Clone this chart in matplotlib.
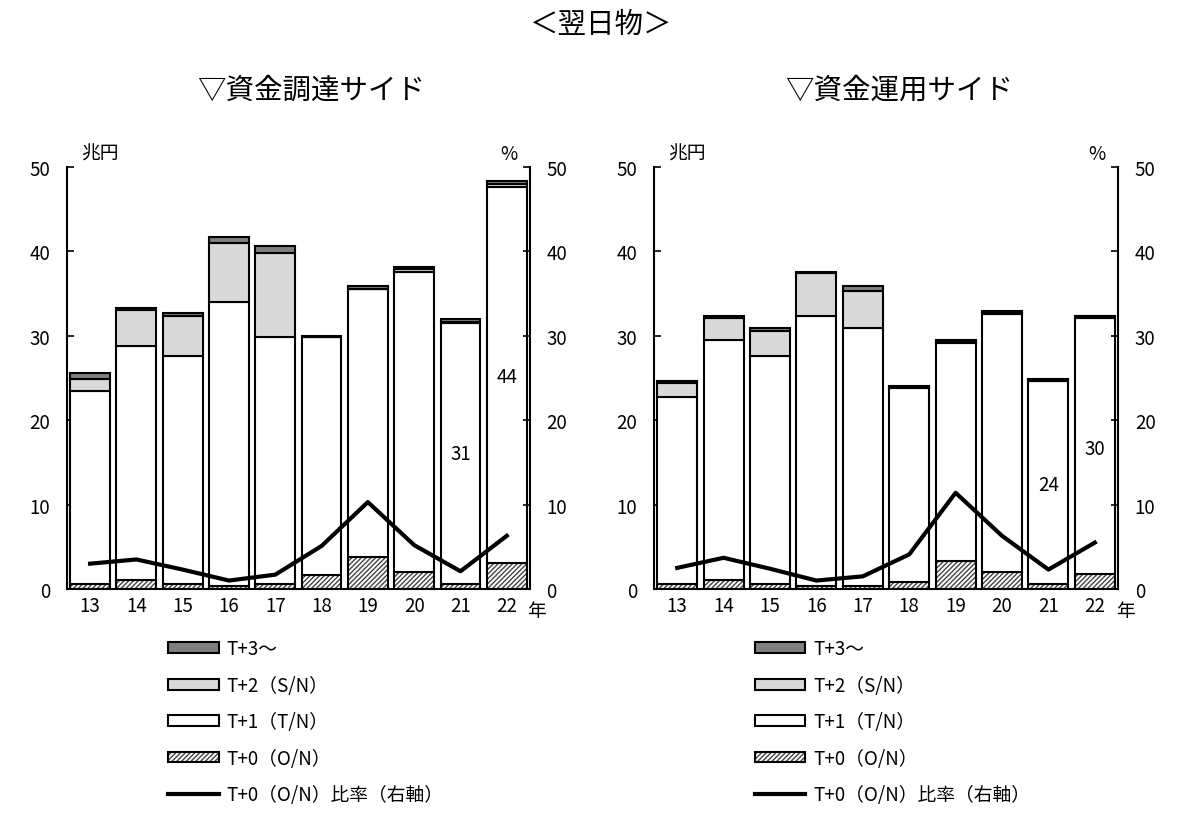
import matplotlib
matplotlib.use("Agg")
import matplotlib.pyplot as plt
from matplotlib.patches import Patch
from matplotlib.lines import Line2D
import numpy as np

plt.rcParams['font.family'] = ['Noto Sans CJK JP', 'DejaVu Sans']
plt.rcParams['hatch.linewidth'] = 1.0

years = ['13', '14', '15', '16', '17', '18', '19', '20', '21', '22']

# 資金調達サイド (兆円)
fund_t0 = [0.6, 1.1, 0.6, 0.4, 0.6, 1.6, 3.75, 2.0, 0.6, 3.1]
fund_t1 = [22.8, 27.7, 27.0, 33.6, 29.3, 28.2, 31.75, 35.6, 30.9, 44.5]
fund_t2 = [1.5, 4.2, 4.8, 7.0, 9.9, 0.1, 0.1, 0.3, 0.1, 0.4]
fund_t3 = [0.7, 0.3, 0.3, 0.7, 0.8, 0.1, 0.3, 0.3, 0.4, 0.3]
fund_ratio = [3.0, 3.5, 2.3, 1.0, 1.7, 5.1, 10.3, 5.2, 2.1, 6.3]
fund_annot_idx = [8, 9]
fund_annot_txt = ['31', '44']
fund_annot_y = [16.0, 25.2]

# 資金運用サイド (兆円)
inv_t0 = [0.6, 1.1, 0.6, 0.4, 0.4, 0.8, 3.3, 2.0, 0.6, 1.8]
inv_t1 = [22.1, 28.4, 27.0, 32.0, 30.5, 23.0, 25.9, 30.6, 24.0, 30.3]
inv_t2 = [1.7, 2.6, 3.0, 5.0, 4.4, 0.1, 0.1, 0.1, 0.1, 0.2]
inv_t3 = [0.3, 0.3, 0.3, 0.2, 0.6, 0.1, 0.2, 0.2, 0.2, 0.1]
inv_ratio = [2.5, 3.7, 2.4, 1.0, 1.5, 4.1, 11.4, 6.3, 2.3, 5.5]
inv_annot_idx = [8, 9]
inv_annot_txt = ['24', '30']
inv_annot_y = [12.4, 16.6]

legend_labels = ['T+3～', 'T+2（S/N）', 'T+1（T/N）', 'T+0（O/N）', 'T+0（O/N）比率（右軸）']

C_T3 = '#7f7f7f'
C_T2 = '#d9d9d9'
C_T1 = '#ffffff'
HATCH_C = '#444444'
HATCH = '///////'
EDGE_LW = 1.5
W = 0.86
FS = 13.5

fig = plt.figure(figsize=(12, 8.37), dpi=100)


def draw(rect, t0, t1, t2, t3, ratio, aidx, atxt, ay, title, leg_x):
    ax = fig.add_axes(rect)
    x = np.arange(len(years))
    t0 = np.array(t0); t1 = np.array(t1); t2 = np.array(t2); t3 = np.array(t3)
    ax.bar(x, t0, W, color='white', edgecolor=HATCH_C, hatch=HATCH, lw=0, zorder=2)
    ax.bar(x, t0, W, fill=False, edgecolor='black', lw=EDGE_LW, zorder=3)
    ax.bar(x, t1, W, bottom=t0, color=C_T1, edgecolor='black', lw=EDGE_LW, zorder=3)
    ax.bar(x, t2, W, bottom=t0 + t1, color=C_T2, edgecolor='black', lw=EDGE_LW, zorder=3)
    ax.bar(x, t3, W, bottom=t0 + t1 + t2, color=C_T3, edgecolor='black', lw=EDGE_LW, zorder=3)
    for i, s, yv in zip(aidx, atxt, ay):
        ax.text(x[i], yv, s, ha='center', va='center', fontsize=FS, zorder=5)
    ax.set_xlim(-0.5, len(years) - 0.5)
    ax.set_ylim(0, 50)
    ax.set_yticks(range(0, 51, 10))
    ax.set_xticks(x)
    ax.set_xticklabels(years, fontsize=FS)
    ax.tick_params(axis='x', length=0, pad=4)
    ax.tick_params(axis='y', direction='in', length=5, width=1.2, labelsize=FS, pad=12)
    for s in ['top', 'right']:
        ax.spines[s].set_visible(False)
    for s in ['left', 'bottom']:
        ax.spines[s].set_linewidth(1.5)
    ax2 = ax.twinx()
    ax2.plot(x, ratio, color='black', lw=3, zorder=6)
    ax2.set_ylim(0, 50)
    ax2.set_yticks(range(0, 51, 10))
    ax2.tick_params(axis='y', direction='in', length=5, width=1.2, labelsize=FS, pad=12)
    for s in ['top', 'left', 'bottom']:
        ax2.spines[s].set_visible(False)
    ax2.spines['right'].set_linewidth(1.5)
    ax.text(0.03, 1.008, '兆円', transform=ax.transAxes, fontsize=FS, ha='left', va='bottom')
    ax2.text(0.955, 1.008, '%', transform=ax.transAxes, fontsize=FS, ha='center', va='bottom')
    ax.text(1.015, -0.052, '年', transform=ax.transAxes, fontsize=FS, ha='center', va='center')
    cx = rect[0] + rect[2] / 2 + 0.011
    fig.text(cx, 0.892, title, fontsize=20.5, ha='center', va='center')
    handles = [
        Patch(facecolor=C_T3, edgecolor='black', lw=EDGE_LW),
        Patch(facecolor=C_T2, edgecolor='black', lw=EDGE_LW),
        Patch(facecolor=C_T1, edgecolor='black', lw=EDGE_LW),
        (Patch(facecolor='white', edgecolor=HATCH_C, hatch=HATCH, lw=0),
         Patch(fill=False, edgecolor='black', lw=EDGE_LW)),
        Line2D([0], [0], color='black', lw=3),
    ]
    fig.legend(handles, legend_labels, loc='upper left', bbox_to_anchor=(leg_x, 0.236),
               frameon=False, fontsize=FS, handlelength=2.7, handleheight=0.5,
               handletextpad=0.4, labelspacing=0.82, borderpad=0, borderaxespad=0)


draw([0.0558, 0.2951, 0.3858, 0.5042], fund_t0, fund_t1, fund_t2, fund_t3, fund_ratio,
     fund_annot_idx, fund_annot_txt, fund_annot_y, '▽資金調達サイド', 0.14)
draw([0.545, 0.2951, 0.3867, 0.5042], inv_t0, inv_t1, inv_t2, inv_t3, inv_ratio,
     inv_annot_idx, inv_annot_txt, inv_annot_y, '▽資金運用サイド', 0.629)

fig.text(0.5, 0.970, '＜翌日物＞', fontsize=20.5, ha='center', va='center')

fig.savefig('out.png', dpi=100, facecolor='white')
